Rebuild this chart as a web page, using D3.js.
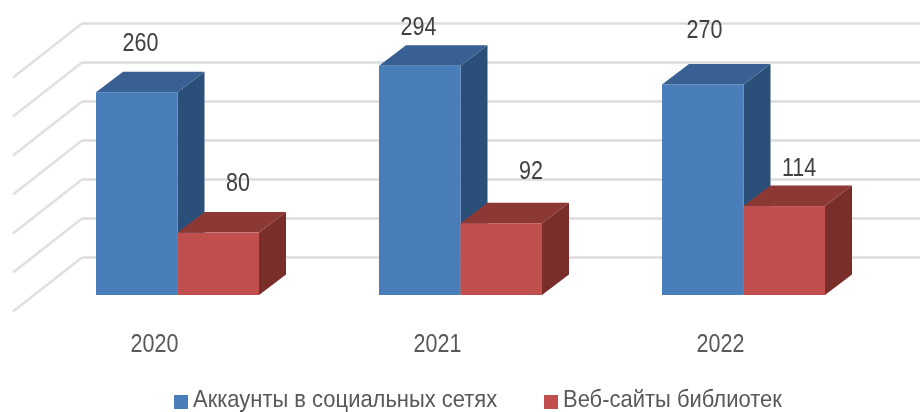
<!DOCTYPE html>
<html lang="ru">
<head>
<meta charset="utf-8">
<script src="https://cdn.jsdelivr.net/npm/d3@7"></script>
<style>
html,body{margin:0;padding:0;background:#fff}
svg{display:block}
text{font-family:"Liberation Sans",Arial,sans-serif}
</style>
</head>
<body>
<svg id="chart" width="920" height="412"></svg>
<script>
const years = ["2020", "2021", "2022"];
const seriesNames = ["Аккаунты в социальных сетях", "Веб-сайты библиотек"];
const accounts = [260, 294, 270];
const websites = [80, 92, 114];
const gridValues = [0, 50, 100, 150, 200, 250, 300];

// Layout
const depthX = 27, depthY = 20.5;
const wallDX = 69, wallDY = 54;
const squeeze = 0.86;
const palette = [
  {front:"#4a7ebb", top:"#376092", side:"#2c5078"},
  {front:"#c0504d", top:"#8c3836", side:"#7a2e2c"}
];
const labelNudge = [[[-37,-50],[-21,-51]],[[-42,-40],[-11,-53]],[[-39,-55],[-26,-39]]];

const svg = d3.select("#chart");
const defs = svg.append("defs");
defs.append("filter").attr("id","soft").append("feGaussianBlur").attr("stdDeviation",0.5);

const x0 = d3.scaleBand().domain(years).range([-45.5, 803.5]);
const x1 = d3.scaleBand().domain(d3.range(2)).range([141.5, 304.5]);
const y = d3.scaleLinear().domain([0, 300]).range([295, 61]);

const chart = svg.append("g").attr("filter","url(#soft)");

// Wall gridlines and side-wall lines
const grid = chart.append("g");
grid.selectAll("line.h").data(gridValues).join("line")
  .attr("class","h")
  .attr("x1", 13 + wallDX).attr("x2", 920)
  .attr("y1", d => y(d) - 37.5).attr("y2", d => y(d) - 37.5)
  .attr("stroke","#dcdcdc").attr("stroke-width",2.6);
grid.selectAll("line.s").data(gridValues).join("line")
  .attr("class","s")
  .attr("x1", 13).attr("x2", 13 + wallDX)
  .attr("y1", d => y(d) - 37.5 + wallDY).attr("y2", d => y(d) - 37.5)
  .attr("stroke","#e0e0e0").attr("stroke-width",2.6);

// Bars
const poly = pts => pts.map(p => p.join(",")).join(" ");
const marks = chart.append("g");
const rows = years.flatMap((yr, i) => [accounts[i], websites[i]].map((v, s) => ({yr, i, s, v})));
rows.forEach(d => {
  const left = x0(d.yr) + x1(d.s), right = left + x1.bandwidth();
  const t = y(d.v), b = y(0), c = palette[d.s];
  const g = marks.append("g");
  g.append("polygon").attr("fill", c.side).attr("points", poly([[right,t],[right+depthX,t-depthY],[right+depthX,b-depthY],[right,b]]));
  g.append("polygon").attr("fill", c.top).attr("points", poly([[left,t],[left+depthX,t-depthY],[right+depthX,t-depthY],[right,t]]));
  g.append("rect").attr("fill", c.front).attr("x", left).attr("y", t).attr("width", right-left).attr("height", b-t);
});

// Value labels
chart.append("g").selectAll("text").data(rows).join("text")
  .attr("transform", d => `translate(${x0(d.yr) + x1(d.s) + x1.bandwidth() + labelNudge[d.i][d.s][0]},${y(d.v) + labelNudge[d.i][d.s][1]}) scale(${squeeze},1)`)
  .attr("dy","0.36em")
  .attr("text-anchor","middle").attr("font-size",25).attr("fill","#404040")
  .text(d => d.v);

// Category labels
chart.append("g").selectAll("text").data(years).join("text")
  .attr("transform", d => `translate(${x0(d) + x1(1) - 23},343) scale(${squeeze},1)`)
  .attr("dy","0.36em")
  .attr("text-anchor","middle").attr("font-size",25).attr("fill","#595959")
  .text(d => d);

// Legend
const legendX = [174, 544];
const legend = chart.append("g").selectAll("g").data(seriesNames).join("g")
  .attr("transform", (d,i) => `translate(${legendX[i]},395)`);
legend.append("rect").attr("width",14).attr("height",14).attr("fill",(d,i)=>palette[i].front);
legend.append("text").attr("transform","translate(19,12) scale(0.915,1)").attr("font-size",24).attr("fill","#595959").text(d=>d);
</script>
</body>
</html>
